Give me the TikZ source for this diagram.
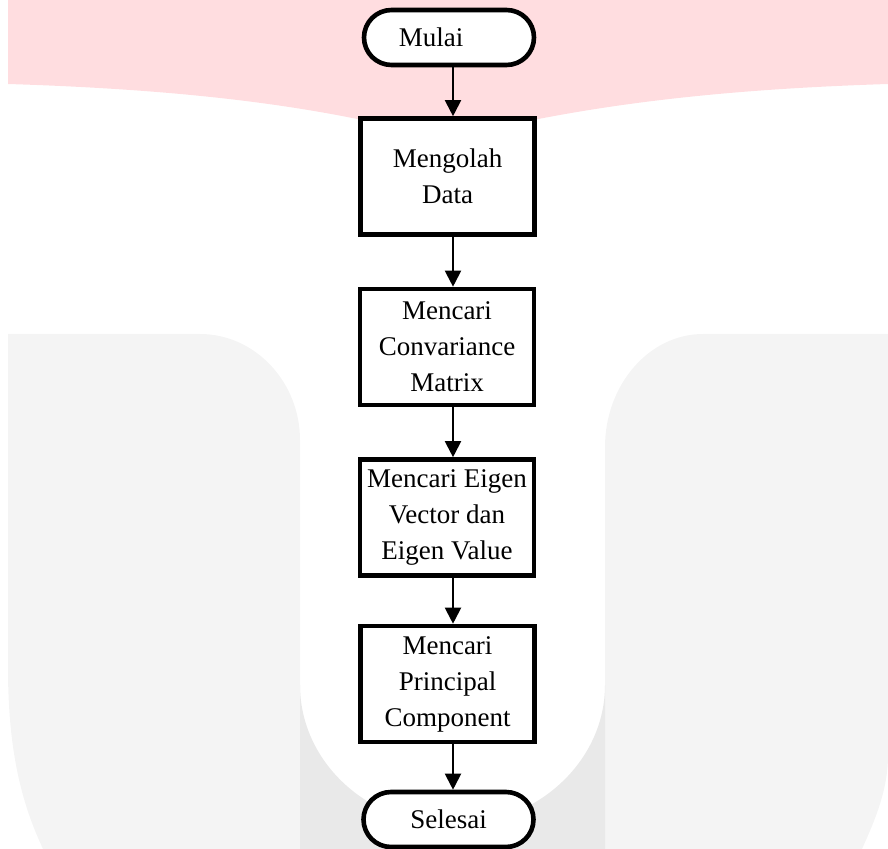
\documentclass[tikz,border=0pt]{standalone}
\usepackage{fontspec}
\setmainfont{Liberation Serif}
\usetikzlibrary{arrows.meta,shapes.misc}

\definecolor{wmpink}{RGB}{255,221,224}
\definecolor{wmlight}{RGB}{244,244,244}
\definecolor{wmdark}{RGB}{233,233,233}

\tikzset{
    steptext/.style={font=\fontsize{13.5}{18}\selectfont},
    process/.style={steptext, draw, line width=2.3pt, fill=white,
        minimum width=87pt, minimum height=58pt, inner sep=2pt, align=center},
    terminal/.style={steptext, draw, rounded rectangle, line width=2.3pt, fill=white,
        minimum width=89pt, minimum height=27.5pt, inner sep=2pt},
    flow/.style={line width=1pt, -{Triangle[width=8pt,length=8pt]}}
}

\begin{document}
\begin{tikzpicture}[x=0.5pt, y=-0.5pt]
    \useasboundingbox (0,0) rectangle (888,849);

    % WATERMARK (pink band)
    \fill[wmpink] (8,0) -- (888,0) -- (888,84)
        .. controls (700,90) and (570,108) .. (445,140)
        .. controls (330,108) and (200,90) .. (8,84) -- cycle;

    % WATERMARK (left and right pillars)
    \fill[wmlight] (8,334) -- (200,334) .. controls (255,334) and (300,382) .. (300,440)
        -- (300,849) -- (43,849) .. controls (25,810) and (8,760) .. (8,668) -- cycle;
    \fill[wmlight] (888,334) -- (703,334) .. controls (649,334) and (605,385) .. (605,447)
        -- (605,849) -- (862,849) .. controls (875,820) and (888,790) .. (888,755) -- cycle;

    % WATERMARK (bottom of the U)
    \fill[wmdark] (300,849) -- (300,685)
        .. controls (300,762) and (368,825) .. (452,825)
        .. controls (536,825) and (605,762) .. (605,685) -- (605,849) -- cycle;

    % FLOW STEPS
    \node[terminal] (start) at (449,37.5) {Mulai\hspace*{18pt}};
    \node[process] (data) at (447.5,176.5) {Mengolah\\Data};
    \node[process] (cov) at (447,347) {Mencari\\Convariance\\Matrix};
    \node[process] (eig) at (447,517.5) {Mencari Eigen\\Vector dan\\Eigen Value};
    \node[process] (pc) at (447.5,684) {Mencari\\Principal\\Component};
    \node[terminal] (stop) at (448.5,819.5) {Selesai};

    % CONNECTORS (all on one vertical line)
    \coordinate (spine) at (453,0);
    \draw[flow] (start.south -| spine) -- (data.north -| spine);
    \draw[flow] (data.south -| spine) -- (cov.north -| spine);
    \draw[flow] (cov.south -| spine) -- (eig.north -| spine);
    \draw[flow] (eig.south -| spine) -- (pc.north -| spine);
    \draw[flow] (pc.south -| spine) -- (stop.north -| spine);
\end{tikzpicture}
\end{document}
